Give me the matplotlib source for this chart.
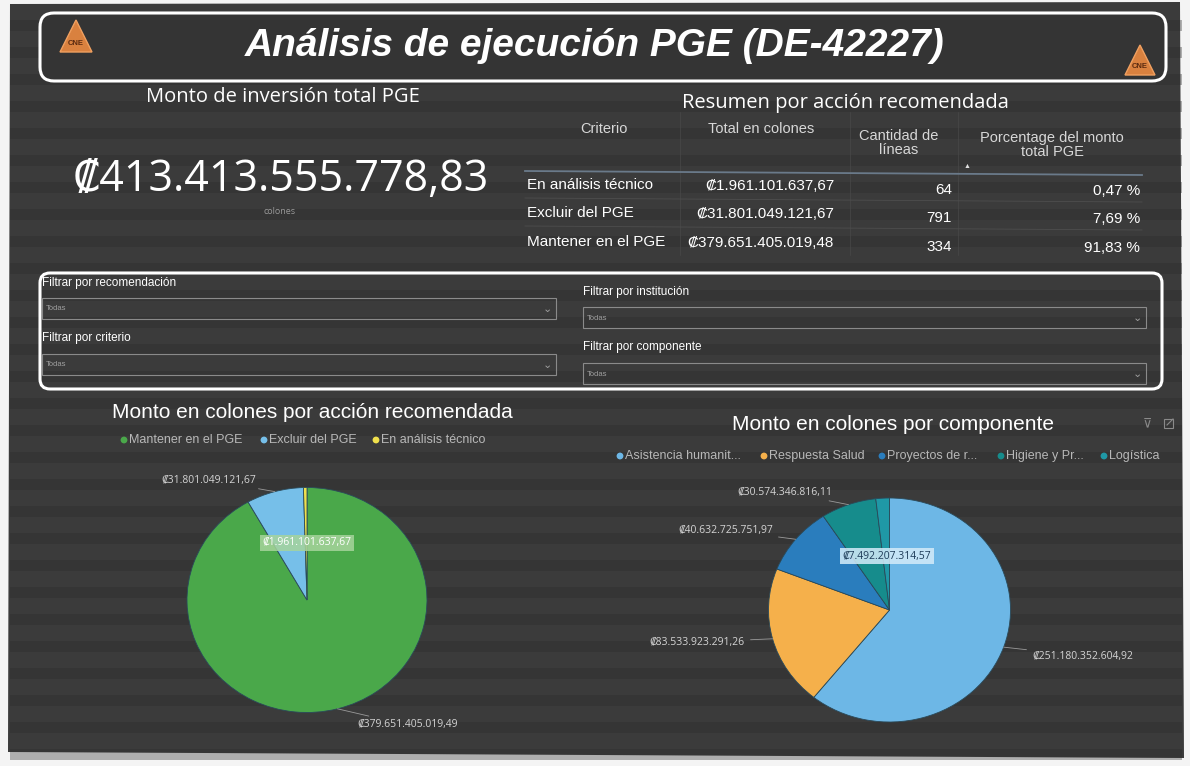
import matplotlib
matplotlib.use('Agg')
import matplotlib.pyplot as plt
from matplotlib.patches import FancyBboxPatch, Rectangle, Polygon, Circle
import numpy as np

W, H = 1190, 766

# ---------------- data ----------------
titulo = "Análisis de ejecución PGE (DE-42227)"
kpi_titulo = "Monto de inversión total PGE"
kpi_valor = "₡413.413.555.778,83"
kpi_unidad = "colones"

tabla_titulo = "Resumen por acción recomendada"
tabla_encabezados = ["Criterio", "Total en colones", "Cantidad de\nlíneas", "Porcentage del monto\ntotal PGE"]
tabla_criterios = ["En análisis técnico", "Excluir del PGE", "Mantener en el PGE"]
tabla_totales = ["₡1.961.101.637,67", "₡31.801.049.121,67", "₡379.651.405.019,48"]
tabla_lineas = [64, 791, 334]
tabla_porcentajes = ["0,47 %", "7,69 %", "91,83 %"]

filtros = ["Filtrar por recomendación", "Filtrar por criterio",
           "Filtrar por institución", "Filtrar por componente"]
filtro_valor = "Todas"

accion_titulo = "Monto en colones por acción recomendada"
accion_categorias = ["Mantener en el PGE", "Excluir del PGE", "En análisis técnico"]
accion_valores = [379651405019.49, 31801049121.67, 1961101637.67]
accion_etiquetas = ["₡379.651.405.019,49", "₡31.801.049.121,67", "₡1.961.101.637,67"]
accion_colores = ['#4aa84a', '#76bfe9', '#f0e04c']

comp_titulo = "Monto en colones por componente"
comp_categorias = ["Asistencia humanit...", "Respuesta Salud", "Proyectos de r...", "Higiene y Pr...", "Logística"]
comp_valores = [251180352604.92, 83533923291.26, 40632725751.97, 30574346816.11, 7492207314.57]
comp_etiquetas = ["₡251.180.352.604,92", "₡83.533.923.291,26", "₡40.632.725.751,97",
                  "₡30.574.346.816,11", "₡7.492.207.314,57"]
comp_colores = ['#6db7e6', '#f5b04b', '#2a7dbd', '#168c8c', '#1f98a6']

# ---------------- figure ----------------
BG = '#3b3b3b'
FAM = ['Liberation Sans', 'DejaVu Sans']
SEGOE = ['Open Sans', 'DejaVu Sans']

fig = plt.figure(figsize=(W / 100, H / 100), dpi=100)
fig.patch.set_facecolor('#f4f4f4')
ax = fig.add_axes([0, 0, 1, 1])
ax.set_xlim(0, W)
ax.set_ylim(H, 0)
ax.axis('off')

# dashboard background
ax.add_patch(Polygon([(10, 4), (1180, 2), (1184, 758), (8, 752)], closed=True,
                     facecolor=BG, edgecolor='none', zorder=0))
# photo stripes
for yy in np.arange(20, 750, 27):
    ax.add_patch(Rectangle((10, yy), 1172, 11, facecolor='#2c2c2c', alpha=0.35,
                           edgecolor='none', zorder=0.5))

# title box
ax.add_patch(FancyBboxPatch((40, 13), 1126, 68, boxstyle="round,pad=0,rounding_size=14",
                            facecolor='#343434', edgecolor='white', lw=2.2, zorder=1))
ax.text(595, 46, titulo, ha='center', va='center', color='white', fontsize=28,
        fontweight='bold', fontstyle='italic', family=FAM, zorder=2)

# logos
def logo(x, y, s):
    ax.add_patch(Polygon([(x, y + s), (x + s / 2, y), (x + s, y + s)], closed=True,
                         facecolor='#d9813f', edgecolor='#f0a060', lw=1, zorder=2))
    ax.text(x + s / 2, y + s * 0.72, "CNE", ha='center', va='center', fontsize=5.5,
            color='#5a2a10', fontweight='bold', family=FAM, zorder=3)
logo(60, 20, 32)
logo(1125, 45, 30)

# KPI
ax.text(283, 97, kpi_titulo, ha='center', va='center', color='white', fontsize=14.5, family=SEGOE)
ax.text(281, 180, kpi_valor, ha='center', va='center', color='white', fontsize=31, family=SEGOE)
ax.text(280, 211, kpi_unidad, ha='center', va='center', color='#9a9a9a', fontsize=6.5, family=SEGOE)

# summary table
ax.text(845, 103, tabla_titulo, ha='center', va='center', color='white', fontsize=14.5, family=SEGOE)
col_x = [604, 761, 899, 1052]
col_y = [129, 129, 143, 145]
for x, y, t in zip(col_x, col_y, tabla_encabezados):
    ax.text(x, y, t, ha='center', va='center', color='#d8d8d8', fontsize=10.5,
            family=FAM, linespacing=1.05)
ax.text(967, 167, "▲", ha='center', va='center', color='#e0e0e0', fontsize=5, family=FAM)
ax.plot([525, 1142], [171, 175], color='#6a7a8a', lw=1.3, zorder=2)
row_y = [185, 213, 242]
for i, y in enumerate(row_y):
    ax.text(527, y, tabla_criterios[i], ha='left', va='center', color='white', fontsize=11, family=FAM)
    ax.text(834, y + 1, tabla_totales[i], ha='right', va='center', color='white', fontsize=11, family=FAM)
    ax.text(952, y + 5, str(tabla_lineas[i]), ha='right', va='center', color='white', fontsize=11, family=FAM)
    ax.text(1140, y + 6, tabla_porcentajes[i], ha='right', va='center', color='white', fontsize=11, family=FAM)
    if i < len(row_y) - 1:
        ax.plot([525, 1142], [y + 13, y + 17], color='#4e4e4e', lw=0.6, zorder=2)
for x in [680, 850, 958]:
    ax.plot([x, x], [112, 255], color='#484848', lw=0.5, zorder=1.5)

# filter box
ax.add_patch(FancyBboxPatch((40, 273), 1122, 116, boxstyle="round,pad=0,rounding_size=10",
                            facecolor='none', edgecolor='white', lw=2.2, zorder=2))
flt_pos = [(42, 283, 298, 556), (42, 338, 354, 556), (583, 292, 307, 1146), (583, 347, 363, 1146)]
for (x, yl, yb, xr), name in zip(flt_pos, filtros):
    ax.text(x, yl, name, ha='left', va='center', color='white', fontsize=8.5, family=FAM)
    ax.add_patch(Rectangle((x, yb), xr - x, 21, facecolor='none', edgecolor='#8a8a8a', lw=0.8, zorder=2))
    ax.text(x + 4, yb + 11, filtro_valor, ha='left', va='center', color='#a0a0a0', fontsize=5.5, family=FAM)
    ax.text(xr - 9, yb + 11, "⌄", ha='center', va='center', color='#a0a0a0', fontsize=8, family=['DejaVu Sans'])

# chart titles
ax.text(312, 412, accion_titulo, ha='center', va='center', color='white', fontsize=15, family=FAM)
ax.text(893, 424, comp_titulo, ha='center', va='center', color='white', fontsize=15, family=FAM)
ax.text(1147, 424, "⊽", ha='center', va='center', color='#8a8a8a', fontsize=9, family=['DejaVu Sans'])
ax.add_patch(Rectangle((1164, 419), 9, 9, facecolor='none', edgecolor='#8a8a8a', lw=0.8))
ax.plot([1167, 1173], [425, 419], color='#8a8a8a', lw=0.8)

# legends
def legend(items, colors, xs, y):
    for t, c, x in zip(items, colors, xs):
        ax.add_patch(Circle((x, y), 3.4, facecolor=c, edgecolor='none', zorder=3))
        ax.text(x + 5, y, t, ha='left', va='center', color='#b8b8b8', fontsize=9, family=FAM)
legend(accion_categorias, accion_colores, [124, 264, 376], 440)
legend(comp_categorias, comp_colores, [620, 764, 882, 1001, 1104], 456)

# pies
def pie_axes(cx, cy, rx, ry):
    return fig.add_axes([(cx - rx) / W, 1 - (cy + ry) / H, 2 * rx / W, 2 * ry / H])

def draw_pie(cx, cy, rx, ry, vals, cols, labels, label_pos, inside_idx, inside_pos, box_fc, box_tc):
    a = pie_axes(cx, cy, rx, ry)
    a.pie(vals, colors=cols, startangle=90, counterclock=False, radius=1,
          wedgeprops=dict(linewidth=0.6, edgecolor='#2a4a5a'))
    a.set_aspect('auto')
    a.set_xlim(-1, 1)
    a.set_ylim(-1, 1)
    a.axis('off')
    tot = float(sum(vals))
    cum = 0.0
    for i, v in enumerate(vals):
        frac = v / tot
        th = np.deg2rad(90 - 360 * (cum + frac / 2))
        cum += frac
        if i == inside_idx:
            px, py = inside_pos
            a.text((px - cx) / rx, -(py - cy) / ry, labels[i], ha='center', va='center',
                   color=box_tc, fontsize=7.5, family=SEGOE,
                   bbox=dict(boxstyle='square,pad=0.25', facecolor=box_fc, edgecolor='none', alpha=0.85))
            continue
        px, py, ha = label_pos[i]
        tx, ty = (px - cx) / rx, -(py - cy) / ry
        ex, ey = np.cos(th), np.sin(th)
        a.annotate(labels[i], xy=(ex, ey), xytext=(tx, ty), ha=ha, va='center',
                   color='#d4d4d4', fontsize=7.5, family=SEGOE, annotation_clip=False,
                   arrowprops=dict(arrowstyle='-', color='#9a9a9a', lw=0.6,
                                   shrinkA=2, shrinkB=0))
    return a

draw_pie(307, 600, 120, 112.5, accion_valores, accion_colores, accion_etiquetas,
         {0: (357, 725, 'left'), 1: (256, 480, 'right')}, 2, (307, 543), '#a6d49c', '#ffffff')
draw_pie(889.5, 610, 121, 112, comp_valores, comp_colores, comp_etiquetas,
         {0: (1032, 656, 'left'), 1: (745, 642, 'right'), 2: (773, 530, 'right'),
          3: (832, 492, 'right')}, 4, (887, 556), '#d4ecfa', '#1d3b58')

fig.savefig('out.png', dpi=100, facecolor=fig.get_facecolor())
